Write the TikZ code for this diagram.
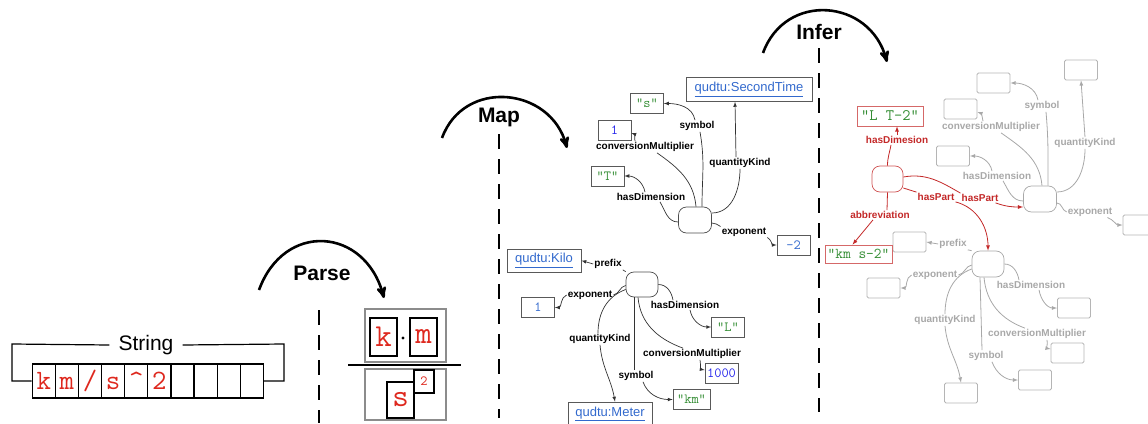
\documentclass[tikz,border=0pt]{standalone}
\usepackage{fontspec}
\setmainfont{Liberation Sans}
\usetikzlibrary{arrows}

\definecolor{tokred}{RGB}{222,40,30}
\definecolor{litgreen}{RGB}{50,140,50}
\definecolor{numblue}{RGB}{40,40,235}
\definecolor{linkblue}{RGB}{50,105,205}
\definecolor{infred}{RGB}{195,40,40}
\definecolor{ghost}{RGB}{168,168,168}

\tikzset{
  phase/.style={line width=2.6pt, -stealth'},
  phaselbl/.style={font=\bfseries\fontsize{21}{21}\selectfont},
  cut/.style={line width=2.6pt, dash pattern=on 15pt off 10pt},
  cell/.style={draw, line width=1.2pt, minimum width=23.1pt, minimum height=34pt, inner sep=0pt,
    text height=19pt, text depth=3pt, text=tokred, font=\ttfamily\fontsize{28}{28}\selectfont},
  fracbox/.style={draw=black!45, line width=1.3pt, minimum width=81pt, inner sep=0pt},
  tokbox/.style={draw, line width=1.2pt, inner sep=0pt, text=tokred, font=\ttfamily\fontsize{32}{32}\selectfont},
  bnode/.style={draw=black!70, line width=0.7pt, rounded corners=8pt, minimum width=33pt, minimum height=26pt, inner sep=0pt},
  lit/.style={draw=black!65, line width=0.7pt, minimum width=33pt, minimum height=20pt, inner sep=1pt,
    font=\ttfamily\fontsize{14}{14}\selectfont},
  link/.style={draw=black!65, line width=0.7pt, minimum height=24pt, inner sep=4pt, text=linkblue,
    font=\fontsize{13}{13}\selectfont},
  rel/.style={inner sep=1pt, font=\bfseries\fontsize{10}{10}\selectfont},
  edge/.style={draw=black!80, line width=0.7pt, >=latex},
  infedge/.style={draw=infred, line width=0.8pt, >=latex},
  ghostedge/.style={draw=ghost, line width=0.8pt, >=latex},
  ghostbox/.style={draw=ghost!85, line width=0.8pt, rounded corners=1.5pt, minimum width=33pt, minimum height=20pt},
}

\begin{document}
\begin{tikzpicture}[x=1pt, y=1pt]
\useasboundingbox (0,0) rectangle (1148,-423);

% the raw string
\node[font=\fontsize{21}{21}\selectfont, inner xsep=9pt] (strlbl) at (146,-345) {String};
\foreach \ch [count=\n] in {k,m,/,s,\textasciicircum,2,{},{},{},{}}
  \node[cell] (cell\n) at ({32.3+23.1*(\n-0.5)},-381) {\ch};
\draw[line width=1.2pt] (strlbl.west) -- (12,-344) -- (12,-381) -- (cell1.west);
\draw[line width=1.2pt] (strlbl.east) -- (284,-344) -- (284,-381) -- (cell10.east);

% parse
\draw[phase] (259,-290) to[out=70, in=105, looseness=1.5] (384,-298);
\node[phaselbl] (parse) at (322,-273) {Parse};
\draw[cut] (319,-310) -- (319,-423);

\node[fracbox, minimum height=53pt] (num) at (405.5,-335.5) {};
\node[tokbox, minimum width=27pt, minimum height=38pt] (tk) at (383.5,-337) {k};
\node[tokbox, minimum width=27pt, minimum height=38pt] (tm) at (423.5,-337) {m};
\node[circle, fill, inner sep=1.2pt] (tdot) at (403,-338) {};
\coordinate (barL) at (348,-365);
\coordinate (barR) at (461,-365);
\draw[line width=1.2pt] (barL) -- (barR);
\node[fracbox, minimum height=51pt] (den) at (405.5,-394.5) {};
\node[tokbox, minimum width=27pt, minimum height=36pt] (ts) at (400.5,-400) {s};
\node[tokbox, minimum width=20pt, minimum height=23pt, font=\ttfamily\fontsize{14}{14}\selectfont] (t2) at (424,-381.5) {2};

% map
\draw[phase] (442,-138) to[out=70, in=105, looseness=1.3] (567,-148);
\node[phaselbl] (map) at (499,-117) {Map};
\draw[cut] (499,-134) -- (499,-418);

% second
\node[bnode] (tcen) at (695,-220) {};
\node[link, minimum width=126pt] (tsec) at (749,-89.5) {\underline{qudtu:SecondTime}};
\node[lit, text=litgreen] (tsym) at (647,-103.5) {"s"};
\node[lit, text=numblue] (tmul) at (614.5,-130) {1};
\node[lit, text=litgreen] (tdim) at (607.5,-176) {"T"};
\node[lit, text=linkblue] (texp) at (793.5,-245) {-2};
\node[rel] (tsymL) at (697,-126) {symbol};
\node[rel] (tmulL) at (645,-147) {conversionMultiplier};
\node[rel] (tkindL) at (740,-163) {quantityKind};
\node[rel] (tdimL) at (651,-197) {hasDimension};
\node[rel] (texpL) at (744,-232) {exponent};
\draw[edge] ([xshift=7pt]tcen.north) to[out=90, in=-80] ([xshift=3pt]tsymL.south);
\draw[edge,->] ([xshift=-2pt]tsymL.north) to[out=100, in=0] (tsym.east);
\draw[edge] ([xshift=1pt]tcen.north) to[out=95, in=-35] ([xshift=12pt]tmulL.south);
\draw[edge,->] ([xshift=-10pt]tmulL.north) to[out=100, in=-20] ([yshift=-3pt]tmul.east);
\draw[edge] ([yshift=-2pt]tcen.west) to[out=180, in=-60] ([xshift=9pt]tdimL.south);
\draw[edge,->] ([xshift=-6pt]tdimL.north) to[out=100, in=0] (tdim.east);
\draw[edge] ([yshift=7pt]tcen.east) to[out=0, in=-90] (tkindL.south);
\draw[edge,->] ([xshift=-4pt]tkindL.north) -- ([xshift=-14pt]tsec.south);
\draw[edge] ([yshift=-3pt]tcen.east) to[out=0, in=150] (texpL.north west);
\draw[edge,->] (texpL.south east) to[out=-30, in=180] (texp.west);

% kilometre
\node[bnode, minimum width=32pt, minimum height=25pt] (bcen) at (642,-284.5) {};
\node[link, minimum width=74pt, minimum height=23pt] (bpre) at (544,-260.5) {\underline{qudtu:Kilo}};
\node[lit, text=linkblue] (bexp) at (538,-307.5) {1};
\node[lit, text=litgreen] (bdim) at (728,-327) {"L"};
\node[lit, text=numblue] (bmul) at (721.5,-373) {1000};
\node[lit, text=litgreen, minimum width=37pt] (bsym) at (691.5,-399.5) {"km"};
\node[link, minimum width=84pt] (bkind) at (610,-414) {\underline{qudtu:Meter}};
\node[rel] (bpreL) at (608,-264) {prefix};
\node[rel] (bexpL) at (590,-295) {exponent};
\node[rel] (bdimL) at (685,-305) {hasDimension};
\node[rel] (bkindL) at (600,-339) {quantityKind};
\node[rel] (bmulL) at (692,-354) {conversionMultiplier};
\node[rel] (bsymL) at (636,-376) {symbol};
\draw[edge] (bcen.north west) -- (bpreL.south east);
\draw[edge,->] (bpreL.west) -- (bpre.east);
\draw[edge] ([yshift=-1pt]bcen.west) to[out=190, in=10] (bexpL.east);
\draw[edge,->] (bexpL.west) to[out=-160, in=0] (bexp.east);
\draw[edge] ([yshift=-5pt]bcen.west) to[out=200, in=90] ([xshift=-2pt]bkindL.north);
\draw[edge,->] (bkindL.south) to[out=-85, in=100] ([xshift=5pt]bkind.north);
\draw[edge] ([xshift=-8pt]bcen.south) -- ([xshift=-2pt]bsymL.north);
\draw[edge,->] ([xshift=7pt]bsymL.south) to[out=-70, in=180] (bsym.west);
\draw[edge] ([xshift=-4pt]bcen.south) to[out=-85, in=160] ([xshift=-9pt]bmulL.north);
\draw[edge,->] ([xshift=8pt]bmulL.south) to[out=-80, in=170] ([yshift=3pt]bmul.west);
\draw[edge] (bcen.east) to[out=0, in=100] ([xshift=-12pt]bdimL.north);
\draw[edge,->] ([xshift=5pt]bdimL.south) to[out=-80, in=180] (bdim.west);

% infer
\draw[phase] (763,-53) to[out=70, in=105, looseness=1.35] (887,-62);
\node[phaselbl] (infer) at (819,-32) {Infer};
\draw[cut] (819,-48) -- (819,-412);

% ghost units
\node[bnode, draw=ghost] (gright) at (1040,-199) {};
\node[ghostbox] (grKind) at (1081,-70) {};
\node[ghostbox] (grSym) at (993.5,-83) {};
\node[ghostbox] (grMul) at (960.5,-109) {};
\node[ghostbox] (grDim) at (953,-156) {};
\node[ghostbox] (grExp) at (1139.5,-225) {};
\node[rel, text=ghost] (grSymL) at (1042,-106) {symbol};
\node[rel, text=ghost] (grMulL) at (991,-127) {conversionMultiplier};
\node[rel, text=ghost] (grKindL) at (1085,-143) {quantityKind};
\node[rel, text=ghost] (grDimL) at (997,-176) {hasDimension};
\node[rel, text=ghost] (grExpL) at (1090,-212) {exponent};
\draw[ghostedge] ([xshift=8pt]gright.north) to[out=90, in=-85] ([xshift=4pt]grSymL.south);
\draw[ghostedge,->] ([xshift=-4pt]grSymL.north) to[out=100, in=0] (grSym.east);
\draw[ghostedge] ([xshift=2pt]gright.north) to[out=95, in=-35] ([xshift=10pt]grMulL.south);
\draw[ghostedge,->] ([xshift=-8pt]grMulL.north) to[out=100, in=-20] ([yshift=-3pt]grMul.east);
\draw[ghostedge] ([yshift=-2pt]gright.west) to[out=180, in=-60] ([xshift=6pt]grDimL.south);
\draw[ghostedge,->] ([xshift=-5pt]grDimL.north) to[out=100, in=0] (grDim.east);
\draw[ghostedge] ([yshift=7pt]gright.east) to[out=0, in=-90] (grKindL.south);
\draw[ghostedge,->] (grKindL.north) -- (grKind.south);
\draw[ghostedge] ([yshift=-4pt]gright.east) to[out=0, in=160] (grExpL.west);
\draw[ghostedge,->] ([xshift=-6pt]grExpL.south east) to[out=-20, in=180] (grExp.west);

\node[bnode, draw=ghost, minimum width=32pt] (gbot) at (988,-264) {};
\node[ghostbox] (gbPre) at (909.5,-242) {};
\node[ghostbox] (gbExp) at (883.5,-288) {};
\node[ghostbox] (gbDim) at (1074,-308) {};
\node[ghostbox] (gbMul) at (1067.5,-353) {};
\node[ghostbox] (gbSym) at (1035,-380) {};
\node[ghostbox] (gbKind) at (961,-393) {};
\node[rel, text=ghost] (gbPreL) at (953,-244) {prefix};
\node[rel, text=ghost] (gbExpL) at (935,-275) {exponent};
\node[rel, text=ghost] (gbDimL) at (1031,-285) {hasDimension};
\node[rel, text=ghost] (gbKindL) at (945,-320) {quantityKind};
\node[rel, text=ghost] (gbMulL) at (1037,-334) {conversionMultiplier};
\node[rel, text=ghost] (gbSymL) at (986,-356) {symbol};
\draw[ghostedge] (gbot.north west) -- (gbPreL.south east);
\draw[ghostedge,->] (gbPreL.west) -- (gbPre.east);
\draw[ghostedge] ([yshift=-1pt]gbot.west) to[out=190, in=10] (gbExpL.east);
\draw[ghostedge,->] (gbExpL.west) to[out=-160, in=0] (gbExp.east);
\draw[ghostedge] ([yshift=-5pt]gbot.west) to[out=200, in=90] (gbKindL.north);
\draw[ghostedge,->] (gbKindL.south) to[out=-85, in=100] (gbKind.north);
\draw[ghostedge] ([xshift=-8pt]gbot.south) -- ([xshift=-4pt]gbSymL.north);
\draw[ghostedge,->] ([xshift=6pt]gbSymL.south) to[out=-70, in=180] (gbSym.west);
\draw[ghostedge] ([xshift=-4pt]gbot.south) to[out=-85, in=160] ([xshift=-12pt]gbMulL.north);
\draw[ghostedge,->] ([xshift=10pt]gbMulL.south) to[out=-80, in=170] ([yshift=4pt]gbMul.west);
\draw[ghostedge] (gbot.east) to[out=0, in=100] ([xshift=-12pt]gbDimL.north);
\draw[ghostedge,->] ([xshift=8pt]gbDimL.south) to[out=-80, in=180] (gbDim.west);

% inferred unit
\node[bnode, draw=infred!80, minimum width=31pt] (rcen) at (887.5,-179) {};
\node[lit, draw=infred!70, text=litgreen, minimum width=66pt, font=\ttfamily\fontsize{16}{16}\selectfont] (rdim) at (890,-116) {"L T-2"};
\node[lit, draw=infred!70, text=litgreen, minimum width=67pt, minimum height=18pt, font=\ttfamily\fontsize{15}{15}\selectfont] (rabb) at (858.5,-254) {"km s-2"};
\node[rel, text=infred] (rdimL) at (897,-140) {hasDimesion};
\node[rel, text=infred] (rabbL) at (880,-215) {abbreviation};
\node[rel, text=infred] (rpartL) at (936,-197) {hasPart};
\node[rel, text=infred] (rpartR) at (980,-198) {hasPart};
\draw[infedge] (rcen.north) to[out=90, in=-100] ([xshift=-6pt]rdimL.south);
\draw[infedge,->] (rdimL.north) -- (rdimL.north |- rdim.south);
\draw[infedge] (rcen.south) -- ([xshift=7pt]rabbL.north);
\draw[infedge,->] ([xshift=-7pt]rabbL.south) -- ([xshift=-6pt]rabb.north);
\draw[infedge] ([yshift=-9pt]rcen.east) -- (rpartL.north west);
\draw[infedge,->] (rpartL.south east) to[out=-15, in=90] (gbot.north);
\draw[infedge] ([yshift=2pt]rcen.east) to[out=10, in=150] (rpartR.north west);
\draw[infedge,->] ([xshift=-4pt]rpartR.south east) to[out=-20, in=180] ([yshift=-8pt]gright.west);
\end{tikzpicture}
\end{document}
